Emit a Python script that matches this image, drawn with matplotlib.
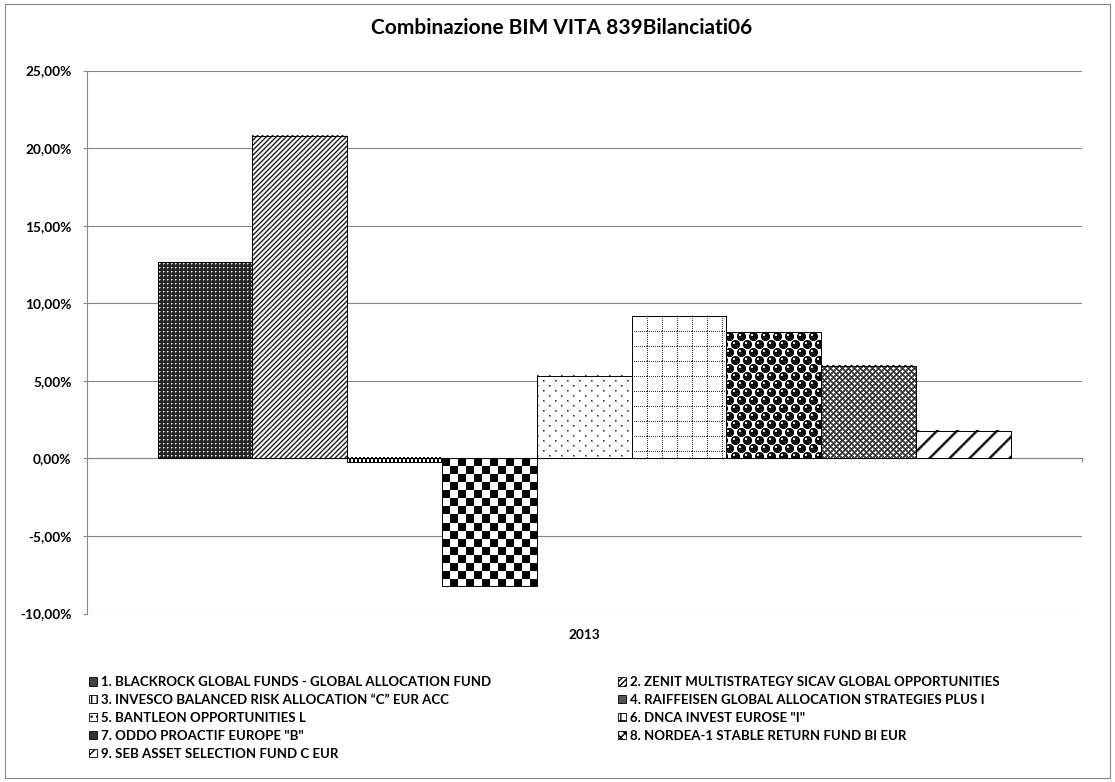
import numpy as np
import matplotlib
matplotlib.use("Agg")
import matplotlib.pyplot as plt
from matplotlib.patches import Patch, Rectangle

plt.rcParams['font.family'] = ['Lato', 'DejaVu Sans']

# data (percent returns 2013)
funds = ['1. BLACKROCK GLOBAL FUNDS - GLOBAL ALLOCATION FUND',
         '2. ZENIT MULTISTRATEGY SICAV GLOBAL OPPORTUNITIES',
         '3. INVESCO BALANCED RISK ALLOCATION \u201cC\u201d EUR ACC',
         '4. RAIFFEISEN GLOBAL ALLOCATION STRATEGIES PLUS I',
         '5. BANTLEON OPPORTUNITIES L',
         '6. DNCA INVEST EUROSE "I"',
         '7. ODDO PROACTIF EUROPE "B"',
         '8. NORDEA-1 STABLE RETURN FUND BI EUR',
         '9. SEB ASSET SELECTION FUND C EUR']
returns = [12.63, 20.81, -0.26, -8.21, 5.32, 9.15, 8.12, 5.97, 1.78]
category = ['2013']
yticks = [-10, -5, 0, 5, 10, 15, 20, 25]

W, H = 1115, 782


# ---- fill patterns (grayscale tiles, 1 px per cell) ----
def t_dark_dots():
    t = np.full((4, 4), 0.15)
    t[1, 1] = 1.0
    t[1, 2] = 0.6
    t[2, 1] = 0.6
    return t

def t_diag(n, vals):
    r, c = np.indices((n, n))
    return np.array(vals)[(r + c) % n]

def t_checker(s):
    r, c = np.indices((2 * s, 2 * s))
    return np.where(((r // s) + (c // s)) % 2 == 0, 0.0, 1.0)

def t_sparse_dots():
    t = np.ones((10, 12))
    for (a, b) in [(0, 0), (5, 6)]:
        t[a, b] = 0.15
        t[a, b + 1] = 0.55
        t[a + 1, b] = 0.55
        t[a + 1, b + 1] = 0.7
    return t

def t_dot_grid():
    t = np.ones((15, 15))
    r, c = np.indices((15, 15))
    t[(r == 0) & (c % 2 == 0)] = 0.2
    t[(c == 0) & (r % 2 == 0)] = 0.2
    return t

def t_spheres():
    th, tw = 16, 12
    t = np.ones((th, tw))
    r, c = np.indices((th, tw))
    for (cy, cx) in [(4, 3), (12, 9)]:
        for dy in (-th, 0, th):
            for dx in (-tw, 0, tw):
                d = np.hypot(r - cy - dy, c - cx - dx)
                t[d < 5.0] = np.minimum(t[d < 5.0], 0.45)
                t[d < 4.3] = 0.05
                hl = np.hypot(r - cy - dy + 1.5, c - cx - dx + 1.5)
                t[hl < 1.1] = 0.9
    return t

def t_lattice():
    r, c = np.indices((6, 6))
    t = np.full((6, 6), 0.3)
    t[np.isin((r + c) % 6, [2, 3, 4]) & np.isin((r - c) % 6, [2, 3, 4])] = 1.0
    t[((r + c) % 6 == 0) & ((r - c) % 6 == 0)] = 0.05
    return t

tiles = [t_dark_dots(),
         t_diag(5, [0.1, 0.5, 1, 1, 0.65]),
         t_checker(2),
         t_checker(8),
         t_sparse_dots(),
         t_dot_grid(),
         t_spheres(),
         t_lattice(),
         t_diag(20, [0.1, 0.05, 0.3, 0.7] + [1] * 15 + [0.6])]

# legend swatches (small, approximate)
legend_style = [dict(facecolor='#444444', hatch=None),
                dict(facecolor='white', hatch='//////'),
                dict(facecolor='white', hatch='|||'),
                dict(facecolor='#555555', hatch=None),
                dict(facecolor='white', hatch='...'),
                dict(facecolor='white', hatch='++'),
                dict(facecolor='#333333', hatch=None),
                dict(facecolor='white', hatch='xxxx'),
                dict(facecolor='white', hatch='///')]

fig = plt.figure(figsize=(W / 100, H / 100), dpi=100)
left, right, top, bottom = 86.7, 1081.7, 70.5, 613.5
ax = fig.add_axes([left / W, 1 - bottom / H, (right - left) / W, (bottom - top) / H])

ymin, ymax = -10, 25
ax.set_xlim(-0.5, 0.5)
ax.set_ylim(ymin, ymax)

n = len(returns)
bw = 94.82 / (right - left)
xs = (np.arange(n) - (n - 1) / 2) * bw

bars = ax.bar(xs, returns, width=bw, facecolor='none', edgecolor='black',
              linewidth=0.7, zorder=4)

for rect, tile in zip(bars, tiles):
    x0 = rect.get_x()
    x1 = x0 + rect.get_width()
    y0 = min(rect.get_y(), rect.get_y() + rect.get_height())
    y1 = max(rect.get_y(), rect.get_y() + rect.get_height())
    p0 = ax.transData.transform((x0, y0))
    p1 = ax.transData.transform((x1, y1))
    wpx = max(1, int(round(p1[0] - p0[0])))
    hpx = max(1, int(round(p1[1] - p0[1])))
    th, tw = tile.shape
    img = np.tile(tile, (hpx // th + 1, wpx // tw + 1))[:hpx, :wpx]
    ax.imshow(img, extent=(x0, x1, y0, y1), origin='upper', cmap='gray',
              vmin=0, vmax=1, interpolation='nearest', aspect='auto', zorder=3)

ax.set_xlim(-0.5, 0.5)
ax.set_ylim(ymin, ymax)

gray = '#868686'
ax.set_yticks(yticks)
ax.set_yticklabels([('%.2f%%' % v).replace('.', ',') for v in yticks],
                   fontweight='bold', fontsize=9.8)
ax.yaxis.grid(True, color=gray, linewidth=0.8)
ax.set_axisbelow(True)
ax.tick_params(axis='y', length=3, color=gray, pad=8)
ax.set_xticks([0])
ax.set_xticklabels(category, fontweight='bold', fontsize=9.8)
ax.tick_params(axis='x', length=0, pad=11)
for s in ['top', 'right', 'bottom']:
    ax.spines[s].set_visible(False)
ax.spines['left'].set_color(gray)
ax.spines['left'].set_linewidth(0.8)

# category axis crossing at zero, with its boundary tick marks
zax = ax.secondary_xaxis((0 - ymin) / (ymax - ymin))
zax.set_xticks([-0.5, 0.5])
zax.set_xticklabels(['', ''])
zax.tick_params(axis='x', length=3, color=gray, width=0.8)
zax.spines['bottom'].set_color(gray)
zax.spines['bottom'].set_linewidth(0.8)
zax.set_zorder(2)

fig.text(562 / W, 1 - 28 / H, 'Combinazione BIM VITA 839Bilanciati06',
         ha='center', va='center', fontweight='bold', fontsize=15)

handles = [Patch(edgecolor='black', linewidth=0.6, label=f, **st)
           for f, st in zip(funds, legend_style)]
order = [0, 2, 4, 6, 8, 1, 3, 5, 7]
fig.legend([handles[i] for i in order], [funds[i] for i in order],
           loc='upper left', bbox_to_anchor=(89 / W, 1 - 676 / H),
           ncol=2, frameon=False, borderpad=0, borderaxespad=0,
           handlelength=0.6, handleheight=0.6, handletextpad=0.3,
           columnspacing=9.6, labelspacing=0.45,
           prop=dict(weight='bold', size=9.5))

fig.patches.append(Rectangle((5 / W, 4 / H), (1110 - 5) / W, (778 - 4) / H,
                             transform=fig.transFigure, fill=False,
                             edgecolor=gray, linewidth=0.8))

fig.savefig('out.png', dpi=100)
